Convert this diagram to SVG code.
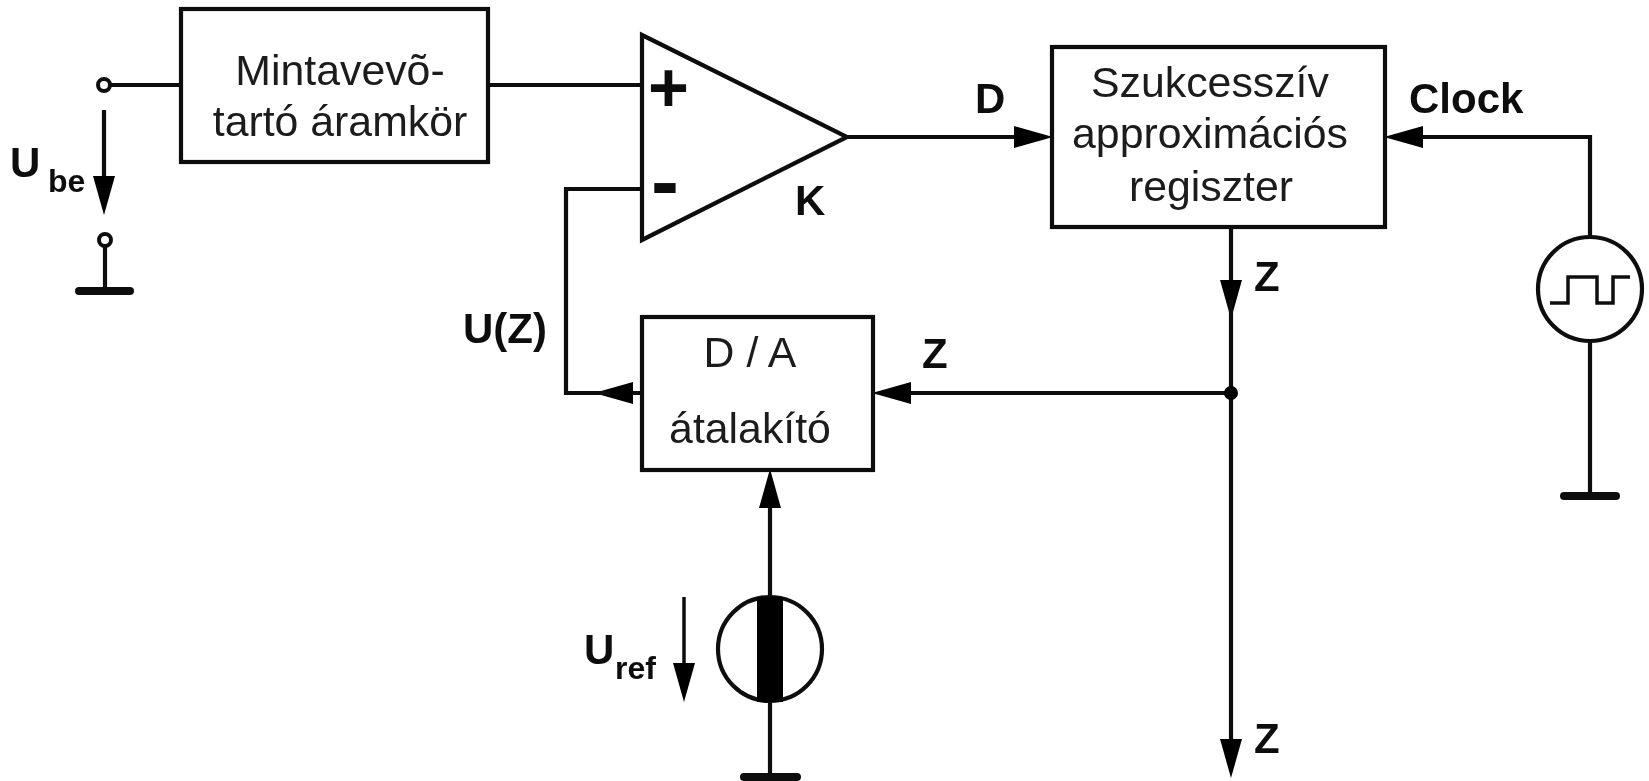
<svg xmlns="http://www.w3.org/2000/svg" width="1649" height="781" viewBox="0 0 1649 781">
<style>
.b{fill:#fff;stroke:#111;stroke-width:4.2}
.w{fill:none;stroke:#111;stroke-width:4.2;stroke-linejoin:miter}
.a{marker-end:url(#h)}
.g{stroke:#111;stroke-width:8;stroke-linecap:round}
.s{fill:#fff;stroke:#111;stroke-width:4}
.t{font-family:"Liberation Sans",Arial,sans-serif;font-size:42.8px;fill:#1a1a1a;text-anchor:middle}
.l{font-family:"Liberation Sans",Arial,sans-serif;font-size:42px;font-weight:bold;fill:#111}
.u{font-size:32px}
</style>
<defs>
<marker id="h" markerUnits="userSpaceOnUse" markerWidth="41" markerHeight="24" viewBox="0 0 41 24" refX="27" refY="12" orient="auto"><path d="M0 1L39 12L0 23Z" fill="#000"/></marker>
<filter id="soft" x="0" y="0" width="100%" height="100%" filterUnits="objectBoundingBox"><feGaussianBlur stdDeviation="0.55"/></filter>
</defs>
<rect width="1649" height="781" fill="#fff"/>
<g filter="url(#soft)">
<rect width="1649" height="781" fill="#fff"/>
<g id="connectors">
<path class="w" d="M110 85H181"/>
<path class="w" d="M488 85H642"/>
<path class="w" d="M847 137H1030"/>
<path class="w a" d="M1000 137H1041"/>
<path class="w a" d="M1590 237V137H1396"/>
<path class="w a" d="M1231 227V307"/>
<path class="w a" d="M1231 300V766"/>
<path class="w a" d="M1225 393H884"/>
<path class="w a" d="M642 393H606"/>
<path class="w" d="M610 393H566V189H642"/>
<path class="w a" d="M770 596V481"/>
<path class="w" d="M770 702V777"/>
<path class="w" d="M1590 341V496"/>
<path class="w" d="M105 246V291"/>
<path class="w a" d="M104 110V203"/>
<path class="w a" style="stroke-width:3.5" d="M684 597V690"/>
<circle cx="1231" cy="393" r="7" fill="#000"/>
</g>
<g id="sample-hold">
<rect class="b" x="181" y="9" width="307" height="153"/>
<text class="t" x="340" y="85">Mintavevõ-</text>
<text class="t" x="340" y="136">tartó áramkör</text>
</g>
<g id="comparator">
<path class="b" d="M642 35L847 137L642 240Z"/>
<text class="l" style="font-size:70px" x="648" y="112">+</text>
<text class="l" style="font-size:84px" x="651" y="210">-</text>
<text class="l" x="795" y="215">K</text>
</g>
<g id="sar">
<rect class="b" x="1052" y="47" width="333" height="180"/>
<text class="t" x="1210" y="97">Szukcesszív</text>
<text class="t" x="1210" y="148">approximációs</text>
<text class="t" x="1211" y="201">regiszter</text>
</g>
<g id="dac">
<rect class="b" x="642" y="317" width="231" height="153"/>
<text class="t" x="750" y="367">D / A</text>
<text class="t" x="750" y="443">átalakító</text>
</g>
<g id="input-terminals">
<circle class="s" cx="104" cy="85" r="6"/>
<circle class="s" cx="105" cy="240" r="6"/>
<line class="g" x1="79" y1="291" x2="130" y2="291"/>
</g>
<g id="clock-source">
<circle class="b" cx="1590" cy="289" r="52"/>
<path class="w" style="stroke-width:3.5" d="M1550 303H1568V277H1597V303H1613V277H1630"/>
<line class="g" x1="1564" y1="496" x2="1616" y2="496"/>
</g>
<g id="reference-source">
<circle class="b" cx="770" cy="649" r="52"/>
<rect x="757" y="597" width="26" height="105" fill="#000"/>
<line class="g" x1="744" y1="777" x2="797" y2="777"/>
</g>
<g id="labels">
<text class="l" x="10" y="177">U</text>
<text class="l" style="font-size:32px" x="48" y="192">be</text>
<text class="l" x="975" y="113">D</text>
<text class="l" x="1409" y="113">Clock</text>
<text class="l" x="1254" y="291">Z</text>
<text class="l" x="1254" y="753">Z</text>
<text class="l" x="922" y="368">Z</text>
<text class="l" x="463" y="343">U(Z)</text>
<text class="l" x="584" y="664">U</text>
<text class="l u" x="615" y="679">ref</text>
</g>
</g>
</svg>
